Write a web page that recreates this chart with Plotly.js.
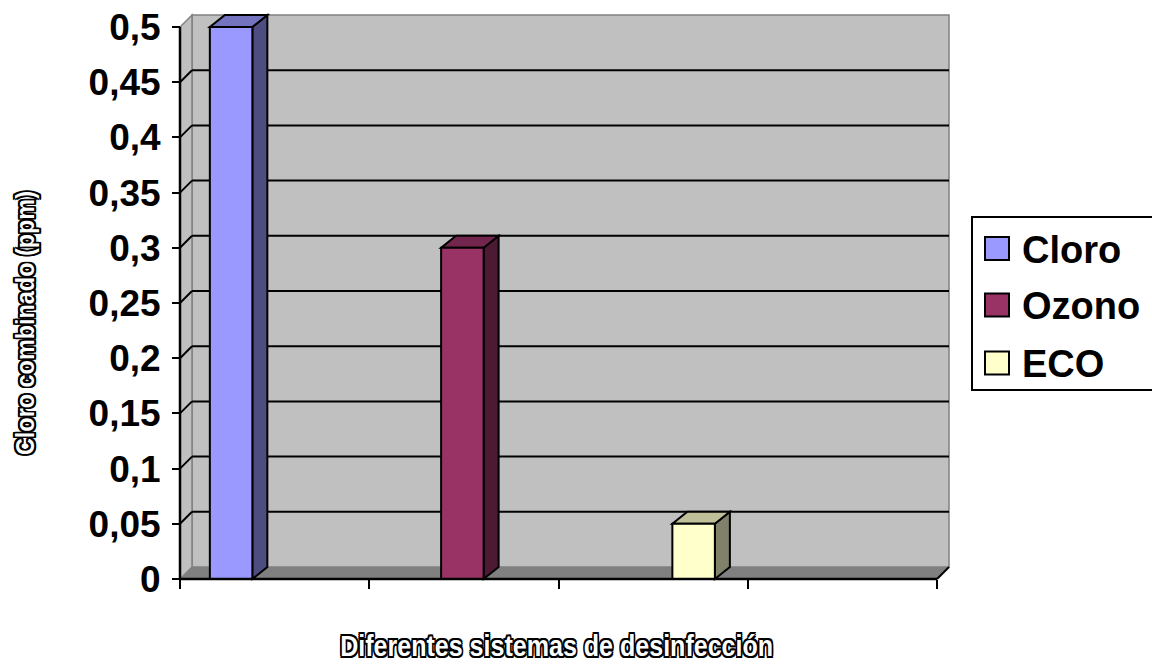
<!DOCTYPE html>
<html>
<head>
<meta charset="utf-8">
<script src="https://cdn.plot.ly/plotly-3.0.1.min.js"></script>
<style>
  html, body { margin: 0; padding: 0; background: #ffffff; }
  #chart { width: 1152px; height: 667px; }
</style>
</head>
<body>
<div id="chart"></div>
<script>
// Disinfection systems and their combined chlorine
const sistemas = ["Cloro", "Ozono", "ECO"];
const cloroCombinado = [0.5, 0.3, 0.05];

// Value axis ticks (comma decimal separator)
const yTickVals = [0, 0.05, 0.1, 0.15, 0.2, 0.25, 0.3, 0.35, 0.4, 0.45, 0.5];
const yTickText = ["0", "0,05", "0,1", "0,15", "0,2", "0,25", "0,3", "0,35", "0,4", "0,45", "0,5"];
const xTickVals = [0, 1, 2, 3, 4];

const yTitle = "Cloro combinado (ppm)";
const xTitle = "Diferentes sistemas de desinfección";

// Face colours of the 3-D columns
const frontColors = ["#9999FF", "#993366", "#FFFFCC"];
const topColors   = ["#7373BF", "#73264D", "#BFBF99"];
const sideColors  = ["#4D4D80", "#4D1A33", "#80806B"];

// ---- geometry (pixels) ----
const W = 1152, H = 667;
const PX0 = 180, PY0 = 579;          // front origin of the axes
const PPX = 189.25, PPY = 1104;      // pixels per x unit / per y unit
const L = 174, R = 954, T = 10, B = 585;
const XMAX = 4, YMAX = 0.5;

const ux = p => p / PPX;
const uy = p => p / PPY;
const papX = p => (p - L) / (R - L);
const papY = p => (B - p) / (B - T);

const WDX = ux(12), WDY = uy(12);    // wall depth
const BDX = ux(15), BDY = uy(12);    // column depth
const barW = ux(42.5);
const barCenter = i => 0.27 + 1.222 * i;

const shapes = [];
const wallGrey = "#C0C0C0", edgeGrey = "#808080";

// back wall
shapes.push({type: "rect", xref: "x", yref: "y", layer: "below",
  x0: WDX, x1: XMAX + WDX, y0: WDY, y1: YMAX + WDY,
  fillcolor: wallGrey, line: {color: edgeGrey, width: 1.5}});
// side wall
shapes.push({type: "path", xref: "x", yref: "y", layer: "below",
  path: `M0,0 L0,${YMAX} L${WDX},${YMAX + WDY} L${WDX},${WDY} Z`,
  fillcolor: wallGrey, line: {color: edgeGrey, width: 1.5}});
// floor
shapes.push({type: "path", xref: "x", yref: "y", layer: "below",
  path: `M0,0 L${XMAX},0 L${XMAX + WDX},${WDY} L${WDX},${WDY} Z`,
  fillcolor: "#808080", line: {width: 0}});

// gridlines on the walls
yTickVals.forEach(v => {
  if (v === 0 || v === YMAX) return;
  shapes.push({type: "line", xref: "x", yref: "y", layer: "below",
    x0: WDX, x1: XMAX + WDX, y0: v + WDY, y1: v + WDY,
    line: {color: "#000000", width: 2}});
  shapes.push({type: "line", xref: "x", yref: "y", layer: "below",
    x0: 0, x1: WDX, y0: v, y1: v + WDY,
    line: {color: "#000000", width: 2}});
});

// top and side faces of each column
cloroCombinado.forEach((v, i) => {
  const xl = barCenter(i) - barW / 2, xr = barCenter(i) + barW / 2;
  shapes.push({type: "path", xref: "x", yref: "y", layer: "below",
    path: `M${xr},0 L${xr},${v} L${xr + BDX},${v + BDY} L${xr + BDX},${BDY} Z`,
    fillcolor: sideColors[i], line: {color: "#000000", width: 2}});
  shapes.push({type: "path", xref: "x", yref: "y", layer: "below",
    path: `M${xl},${v} L${xr},${v} L${xr + BDX},${v + BDY} L${xl + BDX},${v + BDY} Z`,
    fillcolor: topColors[i], line: {color: "#000000", width: 2}});
});

// front axis lines and the floor's right edge
shapes.push({type: "line", xref: "x", yref: "y", layer: "above",
  x0: 0, x1: XMAX, y0: 0, y1: 0, line: {color: "#000000", width: 2.5}});
shapes.push({type: "line", xref: "x", yref: "y", layer: "above",
  x0: XMAX, x1: XMAX + WDX, y0: 0, y1: WDY, line: {color: "#000000", width: 2}});
shapes.push({type: "line", xref: "x", yref: "y", layer: "above",
  x0: 0, x1: 0, y0: 0, y1: YMAX, line: {color: "#000000", width: 2.5}});

// legend box and swatches
const legendRows = [248.5, 305, 363];
shapes.push({type: "rect", xref: "paper", yref: "paper",
  x0: papX(972), x1: papX(1162), y0: papY(390), y1: papY(217),
  fillcolor: "#ffffff", line: {color: "#000000", width: 2}});
const annotations = [];
sistemas.forEach((name, i) => {
  const cy = legendRows[i];
  shapes.push({type: "rect", xref: "paper", yref: "paper",
    x0: papX(985), x1: papX(1009), y0: papY(cy + 11.5), y1: papY(cy - 11.5),
    fillcolor: frontColors[i], line: {color: "#000000", width: 2}});
  annotations.push({xref: "paper", yref: "paper", x: papX(1020), y: papY(cy + 1),
    xanchor: "left", yanchor: "middle", showarrow: false, text: name,
    font: {family: "Liberation Sans, Arial, sans-serif", size: 38, weight: "bold", color: "#000000"}});
});

// outlined, condensed axis titles
const outline = "1.6px 1.6px 0 #000, -1.6px -1.6px 0 #000, 1.6px -1.6px 0 #000, -1.6px 1.6px 0 #000, " +
                "0 1.8px 0 #000, 0 -1.8px 0 #000, 1.8px 0 0 #000, -1.8px 0 0 #000";
const titleFont = size => ({family: "Liberation Sans, Arial, sans-serif", size: size,
  weight: "bold", color: "#ffffff", shadow: outline});
const xTitleIndex = annotations.length;
annotations.push({xref: "paper", yref: "paper", x: papX(556), y: papY(646),
  xanchor: "center", yanchor: "middle", showarrow: false, text: xTitle,
  font: titleFont(29)});
const yTitleIndex = annotations.length;
annotations.push({xref: "paper", yref: "paper", x: papX(25), y: papY(323),
  xanchor: "center", yanchor: "middle", showarrow: false, text: yTitle, textangle: -90,
  font: titleFont(25)});
// squeezed run lengths of the two titles
const titleLengths = {[xTitleIndex]: 433, [yTitleIndex]: 264};

// front faces of the columns
const traces = sistemas.map((name, i) => ({
  type: "bar", name: name,
  x: [barCenter(i)], y: [cloroCombinado[i]], width: [barW],
  marker: {color: frontColors[i], line: {color: "#000000", width: 2}},
  hoverinfo: "skip", showlegend: false
}));

const layout = {
  width: W, height: H,
  margin: {l: L, r: W - R, t: T, b: H - B, pad: 0},
  paper_bgcolor: "#ffffff", plot_bgcolor: "#ffffff",
  showlegend: false,
  xaxis: {range: [(L - PX0) / PPX, (R - PX0) / PPX], anchor: "free", position: papY(PY0),
    tickvals: xTickVals, ticks: "outside", ticklen: 9, tickwidth: 2, tickcolor: "#000000",
    showticklabels: false, showgrid: false, zeroline: false, showline: false, fixedrange: true},
  yaxis: {range: [(PY0 - B) / PPY, (PY0 - T) / PPY], anchor: "free", position: papX(PX0),
    tickvals: yTickVals, ticktext: yTickText, ticks: "outside", ticklen: 8, tickwidth: 2,
    tickcolor: "#000000", ticklabelstandoff: 4,
    tickfont: {family: "Liberation Sans, Arial, sans-serif", size: 37, weight: "bold", color: "#000000"},
    showgrid: false, zeroline: false, showline: false, fixedrange: true},
  shapes: shapes,
  annotations: annotations
};

Plotly.newPlot("chart", traces, layout, {staticPlot: true, displayModeBar: false}).then(gd => {
  Object.keys(titleLengths).forEach(idx => {
    const t = gd.querySelector(`.annotation[data-index="${idx}"] text.annotation-text`);
    if (t) {
      t.setAttribute("textLength", titleLengths[idx]);
      t.setAttribute("lengthAdjust", "spacingAndGlyphs");
    }
  });
});
</script>
</body>
</html>
